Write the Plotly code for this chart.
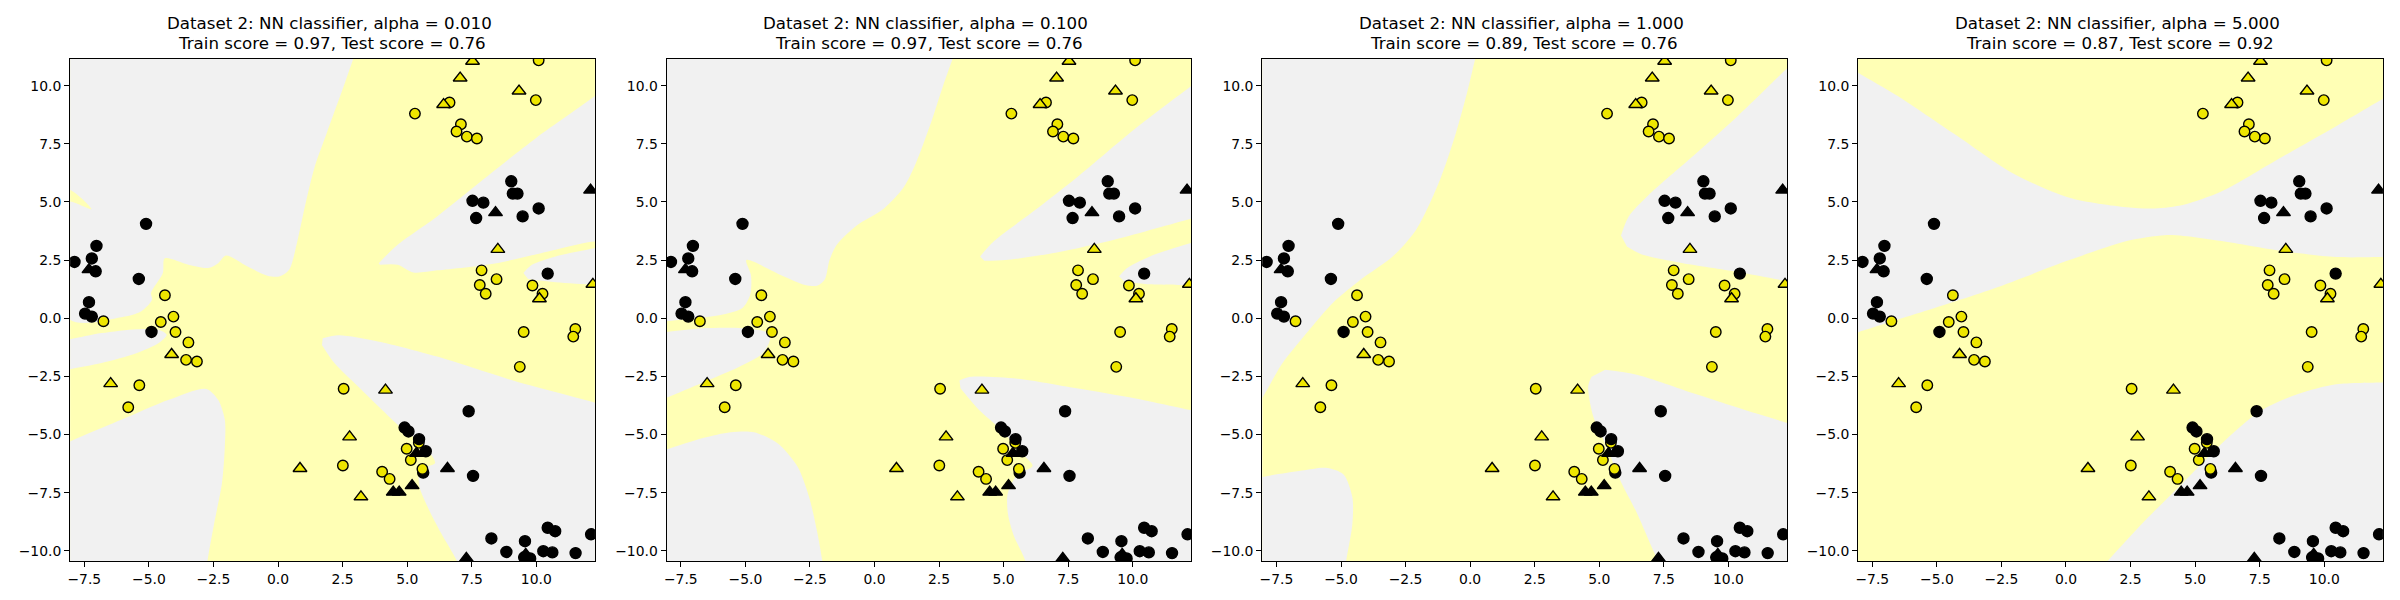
import plotly.graph_objects as go

YELLOW_CIRCLE_X = [5.30, 6.64, 9.98, 10.09, 7.08, 6.91, 7.31, 7.70, 7.88, 7.81, 8.04, 8.46, 9.85, 10.24, 9.51, 11.51, 11.43, 9.36,
                   -6.76, -4.38, -4.54, -4.05, -3.97, -3.47, -3.56, -3.14, -5.37, -5.80, 2.54, 2.51, 4.03, 4.32, 4.98, 5.45, 5.14, 5.59]
YELLOW_CIRCLE_Y = [8.80, 9.28, 9.38, 11.09, 8.34, 8.03, 7.81, 7.73, 2.06, 1.43, 1.05, 1.68, 1.41, 1.05, -0.59, -0.46, -0.79, -2.09,
                   -0.13, 0.99, -0.16, 0.07, -0.59, -1.04, -1.79, -1.86, -2.88, -3.83, -3.03, -6.33, -6.60, -6.91, -5.61, -5.36, -6.10, -6.48]
BLACK_CIRCLE_X = [-5.11, -7.03, -7.88, -7.21, -7.06, -5.39, -7.32, -7.47, -7.21, -4.90, 9.03, 9.09, 9.27, 7.53, 7.95, 7.67, 9.47, 10.09, 10.44,
                  7.38, 4.90, 5.05, 5.72, 5.62, 7.55, 8.26, 8.84, 9.56, 10.44, 10.73, 10.27, 10.62, 11.52, 12.12, 9.53, 9.76]
BLACK_CIRCLE_Y = [4.06, 3.11, 2.42, 2.57, 2.02, 1.69, 0.69, 0.20, 0.07, -0.59, 5.89, 5.36, 5.36, 5.05, 4.97, 4.31, 4.38, 4.72, 1.92,
                  -4.00, -4.70, -4.87, -5.72, -6.64, -6.78, -9.47, -10.05, -9.59, -9.01, -9.16, -10.02, -10.07, -10.10, -9.29, -10.28, -10.33]
BLACK_TOP_CIRCLE_X = [5.46]
BLACK_TOP_CIRCLE_Y = [-5.20]
YELLOW_TRIANGLE_X = [7.53, 7.05, 9.33, 6.41, 8.51, 10.12, 12.19, -4.12, -6.48, 4.16, 2.77, 0.85, 3.21]
YELLOW_TRIANGLE_Y = [11.05, 10.33, 9.77, 9.19, 2.96, 0.84, 1.46, -1.56, -2.81, -3.09, -5.10, -6.46, -7.68]
BLACK_TRIANGLE_X = [12.10, 8.42, -7.32, 5.36, 6.56, 5.19, 4.46, 4.69, 7.29, 9.59]
BLACK_TRIANGLE_Y = [5.51, 4.54, 2.09, -5.81, -6.46, -7.20, -7.48, -7.48, -10.33, -10.16]

X_TICKS = [-7.5, -5.0, -2.5, 0.0, 2.5, 5.0, 7.5, 10.0]
Y_TICKS = [-10.0, -7.5, -5.0, -2.5, 0.0, 2.5, 5.0, 7.5, 10.0]
X_RANGE = [-8.05, 12.27]
Y_RANGE = [-10.44, 11.17]

TITLE_LINE_1 = [
    "Dataset 2: NN classifier, alpha = 0.010",
    "Dataset 2: NN classifier, alpha = 0.100",
    "Dataset 2: NN classifier, alpha = 1.000",
    "Dataset 2: NN classifier, alpha = 5.000",
]
TITLE_LINE_2 = [
    "Train score = 0.97, Test score = 0.76",
    "Train score = 0.97, Test score = 0.76",
    "Train score = 0.89, Test score = 0.76",
    "Train score = 0.87, Test score = 0.92",
]

# Boundaries of the grey (class 0) decision regions, in data units.
P1_A_X = [-9, -9, -8.05, -7.22, -8.05, -9, -8.05, -6.07, -5.31, -4.88, -4.92, -4.46, -4.39, -3.47, -2.71, -2.32, -2.02, -1.18, -0.41, 0.05, 0.43, 0.73, 1.04, 1.42, 1.88, 2.49, 2.92, 3.2, -9]
P1_A_Y = [12, 5.5, 5.52, 4.69, 5.02, 5.0, -0.07, 0.04, 0.29, 0.80, 1.09, 1.95, 2.57, 2.30, 2.16, 2.37, 2.70, 2.23, 1.83, 1.80, 2.09, 3.23, 4.81, 6.52, 7.95, 9.81, 11.17, 12, 12]
P1_B_X = [-9, -8.05, -6.83, -5.46, -4.62, -4.31, -4.62, -5.46, -6.83, -8.05, -9]
P1_B_Y = [-1.0, -0.90, -0.64, -0.47, -0.50, -0.72, -1.07, -1.50, -1.93, -2.19, -2.4]
P1_C_X = [-9, -8.05, -6.07, -4.23, -2.78, -2.32, -2.06, -2.06, -2.17, -2.47, -2.73, -2.85, -9]
P1_C_Y = [-5.8, -5.30, -4.37, -3.51, -3.04, -3.51, -4.37, -5.52, -7.09, -8.81, -10.43, -11.5, -11.5]
P1_D_X = [1.73, 2.34, 3.87, 6.16, 9.22, 12.27, 13, 13, 7.3, 6.92, 6.31, 5.78, 5.47, 5.50, 6.08, 5.54, 4.78, 4.02, 3.10, 2.18, 1.70]
P1_D_Y = [-0.86, -0.73, -1.00, -1.65, -2.72, -3.63, -3.9, -11.5, -11.5, -10.43, -9.24, -8.09, -7.23, -6.50, -6.23, -5.37, -4.73, -3.94, -2.94, -1.93, -1.15]
P1_E_X = [3.90, 4.63, 6.16, 7.69, 9.98, 12.28, 13, 13, 12.28, 10.75, 8.46, 6.16, 5.24, 4.63, 3.94]
P1_E_Y = [2.37, 3.16, 4.38, 5.74, 7.74, 9.56, 10.2, 3.15, 3.30, 2.95, 2.37, 2.06, 1.97, 2.30, 2.30]
P1_F_X = [9.50, 9.83, 10.75, 12.28, 13, 13, 12.28, 10.75, 9.68]
P1_F_Y = [1.95, 2.30, 2.66, 3.02, 3.2, 1.4, 1.44, 1.55, 1.69]

P2_A_X = [-9, -8.05, -5.87, -5.11, -4.81, -4.78, -4.96, -3.59, -2.68, -2.22, -1.92, -1.74, -1.46, -0.70, 0.37, 1.13, 1.58, 2.19, 2.65, 3.03, 3.3, -9]
P2_A_Y = [-0.25, -0.13, 0.16, 0.44, 1.02, 1.84, 2.50, 1.84, 1.43, 1.40, 1.68, 2.50, 3.16, 3.98, 4.72, 5.63, 6.61, 8.42, 9.98, 11.17, 12, 12]
P2_B_X = [-9, -8.05, -6.64, -5.11, -4.12, -4.05, -4.35, -5.27, -6.64, -8.05, -9]
P2_B_Y = [-0.7, -0.59, -0.43, -0.43, -0.63, -0.95, -1.53, -2.11, -2.76, -3.42, -3.9]
P2_C_X = [-9, -8.05, -6.64, -5.57, -4.66, -3.74, -2.98, -2.53, -2.22, -2.02, -1.9, -9]
P2_C_Y = [-6.0, -5.64, -5.15, -4.90, -4.90, -5.39, -6.38, -7.70, -9.18, -10.44, -11.5, -11.5]
P2_D_X = [3.29, 3.71, 5.54, 7.82, 10.11, 12.25, 13, 13, 6.0, 5.84, 5.39, 5.16, 5.16, 5.54, 6.12, 5.69, 4.93, 4.02, 3.33]
P2_D_Y = [-2.68, -2.52, -2.60, -3.01, -3.45, -3.95, -4.1, -11.5, -11.5, -10.44, -9.34, -8.36, -7.53, -6.71, -6.35, -5.81, -4.82, -3.91, -3.01]
P2_E_X = [4.09, 4.63, 6.30, 7.82, 10.11, 12.25, 13, 13, 12.25, 9.35, 7.06, 5.08, 4.25]
P2_E_Y = [2.66, 3.32, 4.72, 6.04, 8.17, 9.98, 10.6, 4.5, 4.28, 3.40, 2.83, 2.50, 2.47]
P2_F_X = [9.47, 9.80, 10.87, 12.25, 13, 13, 12.25, 10.56, 9.65]
P2_F_Y = [1.81, 2.17, 2.75, 3.24, 3.5, 1.42, 1.43, 1.46, 1.60]

P3_A_X = [-9, -8.0, -7.27, -6.20, -5.29, -4.22, -3.00, -2.09, -1.17, -0.56, -0.11, 0.20, 0.4, -9]
P3_A_Y = [-5.0, -3.34, -1.94, -0.46, 0.69, 1.68, 2.66, 3.81, 5.95, 7.93, 9.74, 11.17, 12, 12]
P3_C_X = [-9, -8.05, -6.51, -5.59, -4.91, -4.56, -4.56, -4.80, -4.95, -9]
P3_C_Y = [-7.1, -6.83, -6.55, -6.43, -6.71, -7.70, -8.85, -10.44, -11.5, -11.5]
P3_D_X = [5.23, 6.45, 8.73, 11.02, 12.24, 13, 13, 7.9, 7.29, 6.45, 5.84, 5.23, 4.77, 4.57, 4.70]
P3_D_Y = [-2.22, -2.43, -3.26, -4.08, -4.49, -4.75, -11.5, -11.5, -10.44, -8.36, -7.04, -5.39, -4.24, -2.93, -2.52]
P3_E_X = [5.84, 6.14, 6.91, 8.43, 10.26, 12.24, 13, 13, 12.24, 10.26, 7.97, 6.60, 6.07]
P3_E_Y = [3.56, 4.38, 5.30, 6.78, 8.59, 10.72, 11.5, 1.45, 1.60, 2.01, 2.42, 2.76, 3.08]

P4_A_X = [-9, -8.02, -6.50, -4.29, -2.08, 0.13, 2.35, 3.45, 4.56, 6.03, 8.24, 10.46, 12.27, 13, 13, 12.27, 10.46, 8.24, 6.03, 4.56, 3.82, 2.35, 0.13, -2.82, -5.77, -8.02, -9]
P4_A_Y = [11.2, 10.54, 9.55, 7.90, 6.25, 5.18, 4.77, 4.72, 4.88, 5.46, 6.86, 8.26, 9.44, 9.9, 2.63, 2.63, 2.63, 2.91, 3.32, 3.54, 3.57, 3.32, 2.50, 1.27, 0.20, -0.59, -0.9]
P4_D_X = [1.61, 3.08, 4.56, 6.03, 7.51, 8.98, 10.46, 12.27, 13, 13, 0.6]
P4_D_Y = [-10.44, -8.68, -7.04, -5.39, -4.00, -3.26, -2.84, -2.76, -2.75, -11.5, -11.5]

PANEL_REGIONS = [
    [(P1_A_X, P1_A_Y), (P1_B_X, P1_B_Y), (P1_C_X, P1_C_Y), (P1_D_X, P1_D_Y), (P1_E_X, P1_E_Y), (P1_F_X, P1_F_Y)],
    [(P2_A_X, P2_A_Y), (P2_B_X, P2_B_Y), (P2_C_X, P2_C_Y), (P2_D_X, P2_D_Y), (P2_E_X, P2_E_Y), (P2_F_X, P2_F_Y)],
    [(P3_A_X, P3_A_Y), (P3_C_X, P3_C_Y), (P3_D_X, P3_D_Y), (P3_E_X, P3_E_Y)],
    [(P4_A_X, P4_A_Y), (P4_D_X, P4_D_Y)],
]

W, H = 2400, 600
LEFTS = [67.2, 664.4, 1260.8, 1857.4]
AX_W = 525.5
TOP, BOTTOM = 58.5, 561.0
GREY = "#f1f1f1"
BG = "#ffffb5"
MARK_YELLOW = "#eee600"
FONT = "DejaVu Sans"

fig = go.Figure()
annotations = []
layout = {}
for i in range(4):
    suffix = "" if i == 0 else str(i + 1)
    xa, ya = "x" + suffix, "y" + suffix
    for rx, ry in PANEL_REGIONS[i]:
        fig.add_trace(go.Scatter(x=rx, y=ry, xaxis=xa, yaxis=ya, mode="lines", fill="toself",
                                 fillcolor=GREY, line=dict(width=0, shape="spline", smoothing=0.8),
                                 hoverinfo="skip", showlegend=False))
    layers = [
        (BLACK_CIRCLE_X, BLACK_CIRCLE_Y, "circle", "black", 11),
        (YELLOW_CIRCLE_X, YELLOW_CIRCLE_Y, "circle", MARK_YELLOW, 10.5),
        (BLACK_TOP_CIRCLE_X, BLACK_TOP_CIRCLE_Y, "circle", "black", 11),
        (YELLOW_TRIANGLE_X, YELLOW_TRIANGLE_Y, "triangle-up", MARK_YELLOW, 12),
        (BLACK_TRIANGLE_X, BLACK_TRIANGLE_Y, "triangle-up", "black", 12),
    ]
    for mx, my, sym, col, size in layers:
        fig.add_trace(go.Scatter(x=mx, y=my, xaxis=xa, yaxis=ya, mode="markers",
                                 marker=dict(symbol=sym, color=col, size=size, line=dict(color="black", width=1.4)),
                                 showlegend=False))
    x0, x1 = LEFTS[i] / W, (LEFTS[i] + AX_W) / W
    y0, y1 = 1 - BOTTOM / H, 1 - TOP / H
    common = dict(showgrid=False, zeroline=False, showline=True, mirror=True, linecolor="black", linewidth=1.1,
                  ticks="outside", ticklen=5, tickwidth=1.1, tickcolor="black",
                  tickfont=dict(family=FONT, size=13.9, color="black"), tickformat=".1f")
    layout["xaxis" + suffix] = dict(domain=[x0, x1], range=X_RANGE, tickmode="array", tickvals=X_TICKS,
                                    anchor=ya, **common)
    layout["yaxis" + suffix] = dict(domain=[y0, y1], range=Y_RANGE, tickmode="array", tickvals=Y_TICKS,
                                    anchor=xa, **common)
    for text, ypx, shift in ((TITLE_LINE_1[i], 23.0, 0), (TITLE_LINE_2[i], 43.8, 2.6)):
        annotations.append(dict(text=text, xref="paper", yref="paper", x=(x0 + x1) / 2 - 3.0 / W, y=1 - ypx / H, xshift=shift,
                                xanchor="center", yanchor="middle", showarrow=False, align="center",
                                font=dict(family=FONT, size=16.67, color="black")))

fig.update_layout(width=W, height=H, margin=dict(l=0, r=0, t=0, b=0), paper_bgcolor="white", plot_bgcolor=BG,
                  annotations=annotations, showlegend=False, **layout)
fig.write_html("out.html", config={"displayModeBar": False}, post_script="document.body.style.margin='0';")
